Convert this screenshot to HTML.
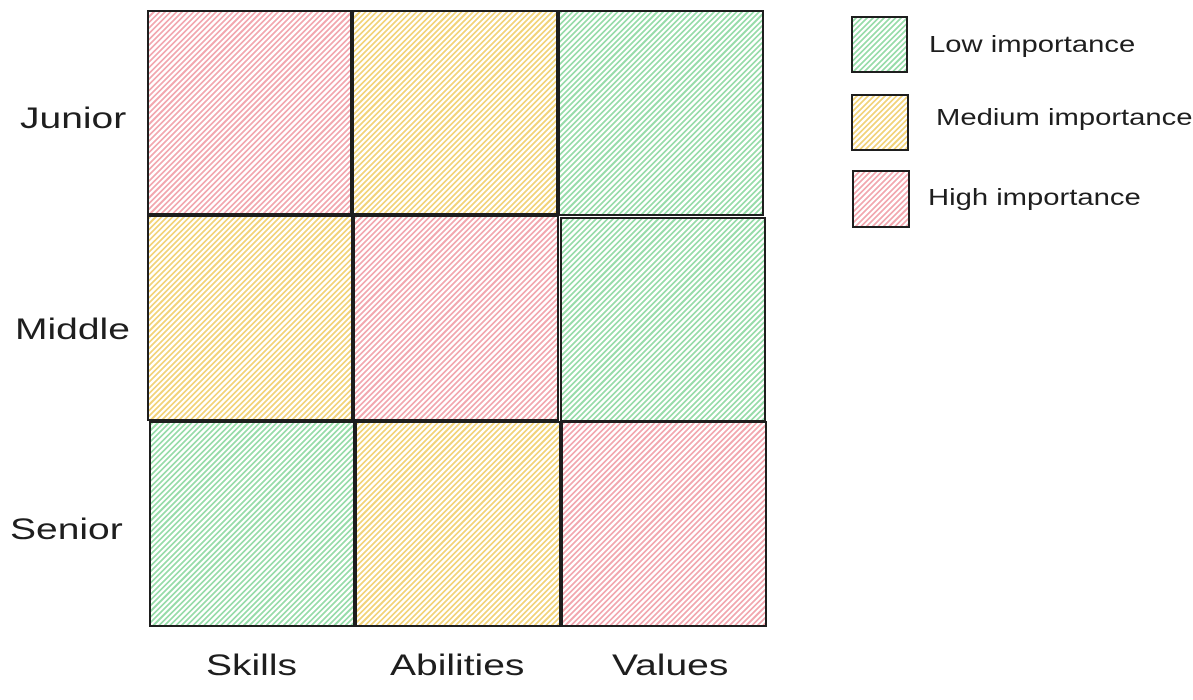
<!DOCTYPE html>
<html><head><style>
body{margin:0;width:1193px;height:700px;background:#fff;position:relative;overflow:hidden;font-family:"Comic Sans MS","Liberation Sans",sans-serif}
.c{position:absolute;border:2px solid #1e1e1e;box-sizing:border-box}
.r{background:repeating-linear-gradient(-45deg,#f2a8b0 0 1.8px,#fff 1.8px 4px)}
.y{background:repeating-linear-gradient(-45deg,#f2d37a 0 1.8px,#fff 1.8px 4px)}
.g{background:repeating-linear-gradient(-45deg,#98dcaa 0 1.8px,#fff 1.8px 4px)}
.t{position:absolute;color:#1e1e1e;font-size:30px;white-space:nowrap;transform-origin:0 0;transform:scaleX(1.3)}
.l{position:absolute;color:#1e1e1e;font-size:23px;white-space:nowrap;transform-origin:0 0;transform:scaleX(1.27)}
</style></head><body>
<div class="c r" style="left:147px;top:10px;width:205px;height:205px"></div>
<div class="c y" style="left:352px;top:10px;width:206px;height:205px"></div>
<div class="c g" style="left:558px;top:10px;width:206px;height:206px"></div>
<div class="c y" style="left:147px;top:215px;width:206px;height:206px"></div>
<div class="c r" style="left:353px;top:215px;width:206px;height:206px"></div>
<div class="c g" style="left:560px;top:217px;width:206px;height:205px"></div>
<div class="c g" style="left:149px;top:421px;width:206px;height:206px"></div>
<div class="c y" style="left:355px;top:421px;width:206px;height:206px"></div>
<div class="c r" style="left:561px;top:421px;width:206px;height:206px"></div>
<div class="c g" style="left:851px;top:16px;width:57px;height:57px"></div>
<div class="c y" style="left:851px;top:94px;width:58px;height:57px"></div>
<div class="c r" style="left:852px;top:170px;width:58px;height:58px"></div>
<div class="t" style="left:20px;top:102px">Junior</div>
<div class="t" style="left:15px;top:313px">Middle</div>
<div class="t" style="left:10px;top:513px">Senior</div>
<div class="t" style="left:206px;top:649px">Skills</div>
<div class="t" style="left:390px;top:649px">Abilities</div>
<div class="t" style="left:612px;top:649px">Values</div>
<div class="l" style="left:929px;top:31px">Low importance</div>
<div class="l" style="left:936px;top:104px">Medium importance</div>
<div class="l" style="left:928px;top:184px">High importance</div>
</body></html>
